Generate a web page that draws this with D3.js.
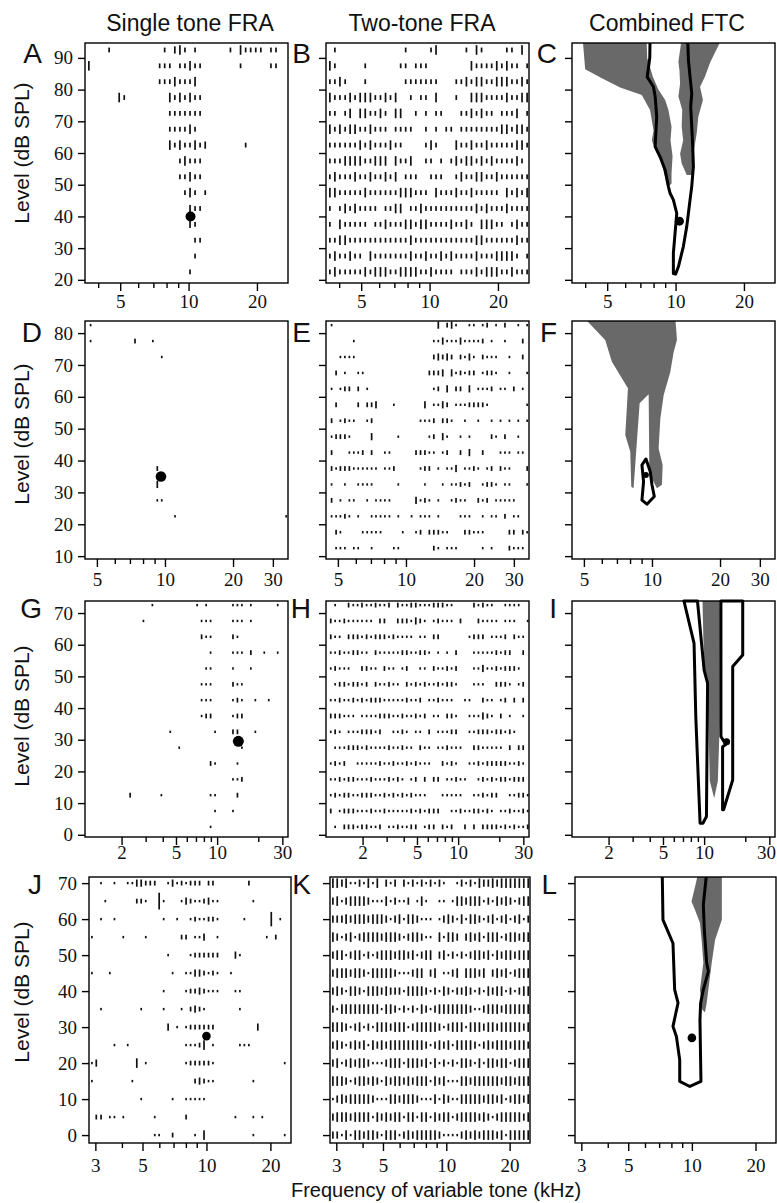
<!DOCTYPE html>
<html>
<head>
<meta charset="utf-8">
<script src="https://cdn.jsdelivr.net/npm/d3@7/dist/d3.min.js"></script>
<style>
  html, body { margin: 0; padding: 0; background: #fff; }
  svg { display: block; }
</style>
</head>
<body>
<svg id="fig" width="777" height="1203"></svg>
<script>
// ---------------- text ----------------
const columnTitles = ["Single tone FRA", "Two-tone FRA", "Combined FTC"];
const panelLetters = [["A", "B", "C"], ["D", "E", "F"], ["G", "H", "I"], ["J", "K", "L"]];
const yAxisTitle = "Level (dB SPL)";
const xAxisTitle = "Frequency of variable tone (kHz)";

// ---------------- stimulus grids (kHz / dB SPL) ----------------
const freqsRow1 = [3.64, 3.83, 4.03, 4.25, 4.47, 4.70, 4.95, 5.21, 5.49, 5.77,
  6.08, 6.40, 6.73, 7.09, 7.46, 7.85, 8.27, 8.70, 9.16, 9.64,
  10.15, 10.68, 11.24, 11.84, 12.46, 13.11, 13.80, 14.53, 15.29, 16.10,
  16.94, 17.84, 18.77, 19.76, 20.80, 21.89, 23.05, 24.26, 25.53, 26.88];
const freqsRow2 = [4.69, 4.91, 5.13, 5.37, 5.62, 5.88, 6.15, 6.44, 6.74, 7.05,
  7.37, 7.72, 8.07, 8.45, 8.84, 9.25, 9.68, 10.12, 10.59, 11.08,
  11.60, 12.13, 12.69, 13.28, 13.90, 14.54, 15.21, 15.92, 16.65, 17.43,
  18.23, 19.08, 19.96, 20.88, 21.85, 22.86, 23.92, 25.03, 26.19, 27.40,
  28.67, 29.99, 31.38, 32.84, 34.36];
const freqsRow3 = [1.17, 1.26, 1.36, 1.47, 1.58, 1.71, 1.84, 1.98, 2.14, 2.31,
  2.49, 2.68, 2.89, 3.12, 3.36, 3.62, 3.91, 4.21, 4.54, 4.90,
  5.28, 5.70, 6.14, 6.63, 7.14, 7.70, 8.31, 8.96, 9.66, 10.41,
  11.23, 12.11, 13.06, 14.08, 15.18, 16.37, 17.65, 19.04, 20.53, 22.13,
  23.87, 25.74, 27.75, 29.92, 32.27];
const freqsRow4 = [2.89, 3.03, 3.19, 3.34, 3.51, 3.69, 3.87, 4.06, 4.26, 4.48,
  4.70, 4.93, 5.18, 5.44, 5.71, 5.99, 6.29, 6.60, 6.93, 7.28,
  7.64, 8.02, 8.42, 8.84, 9.28, 9.74, 10.23, 10.73, 11.27, 11.83,
  12.42, 13.04, 13.69, 14.37, 15.08, 15.84, 16.62, 17.45, 18.32, 19.23,
  20.19, 21.20, 22.25, 23.36, 24.52];

const levelsRow1 = [92.5, 87.5, 82.5, 77.5, 72.5, 67.5, 62.5, 57.5, 52.5, 47.5, 42.5, 37.5, 32.5, 27.5, 22.5];
const levelsRow2 = [82.5, 77.5, 72.5, 67.5, 62.5, 57.5, 52.5, 47.5, 42.5, 37.5, 32.5, 27.5, 22.5, 17.5, 12.5];
const levelsRow3 = [72.5, 67.5, 62.5, 57.5, 52.5, 47.5, 42.5, 37.5, 32.5, 27.5, 22.5, 17.5, 12.5, 7.5, 2.5];
const levelsRow4 = [70, 65, 60, 55, 50, 45, 40, 35, 30, 25, 20, 15, 10, 5, 0];

// ---------------- spike counts per cell ('.' = no spikes), one string per level ----------------
const rasterA = [
  "....2 ..... ..... 2.342 .2... ...2. 42222 .22..",
  "4.... ..... ....2 22.22 422.. ..... 2.... .22..",
  "..... ..... ....2 22422 24... ..... ..... .....",
  "..... .42.. ..... .4242 422.. ..... ..... .....",
  "..... ..... ..... .2222 222.. ..... ..... .....",
  "..... ..... ..... .2222 42... ..... ..... .....",
  "..... ..... ..... .4242 2423. ..... .2... .....",
  "..... ..... ..... ...24 222.. ..... ..... .....",
  "..... ..... ..... ...22 422.. ..... ..... .....",
  "..... ..... ..... ....2 42.2. ..... ..... .....",
  "..... ..... ..... ..... 322.. ..... ..... .....",
  "..... ..... ..... ..... 32... ..... ..... .....",
  "..... ..... ..... ..... .22.. ..... ..... .....",
  "..... ..... ..... ..... .2... ..... ..... .....",
  "..... ..... ..... ..... 2.... ..... ..... ....."
];
const rasterB = [
  ".2... ..... ..... 2.... 24... ..2.4 2.... 22.4.",
  "42... ..2.. ....2 2.222 ..... ...42 22242 422.2",
  "2242. ..2.. ..... 22222 22... 22424 42244 42242",
  "42224 24442 2424. .2.22 .4... 2..44 42222 42244",
  "22.24 .4422 42.44 ..2.2 .22.. .2242 422.2 224.2",
  "42424 42242 22.22 22..2 .2.22 .2222 22224 42442",
  "22222 24242 22422 ....2 42... 42242 24222 22442",
  "22244 44224 44.42 24..2 2.2.2 42442 42422 2242.",
  "24222 42242 2424. 222.. 222.. 24224 42242 22222",
  "44222 22422 22224 44222 .4222 42242 2222. 42424",
  "2.242 42222 .2244 .2242 22222 22224 24222 42222",
  "2.422 222.2 24222 44244 22224 2242. 44422 .2422",
  "22442 22222 22222 24222 22222 22224 42222 22422",
  "24224 22.42 22222 24224 22424 22224 22244 442.2",
  "24222 22424 44224 44422 42222 .2224 24442 24222"
];
const rasterD = [
  "1.... ..... ..... ..... ..... ..... ..... ..... .....",
  "1.... ..... 2...1 ..... ..... ..... ..... ..... .....",
  "..... ..... ..... .1... ..... ..... ..... ..... .....",
  "..... ..... ..... ..... ..... ..... ..... ..... .....",
  "..... ..... ..... ..... ..... ..... ..... ..... .....",
  "..... ..... ..... ..... ..... ..... ..... ..... .....",
  "..... ..... ..... ..... ..... ..... ..... ..... .....",
  "..... ..... ..... ..... ..... ..... ..... ..... .....",
  "..... ..... ..... ..... ..... ..... ..... ..... .....",
  "..... ..... ..... 2.... ..... ..... ..... ..... .....",
  "..... ..... ..... 3.... ..... ..... ..... ..... .....",
  "..... ..... ..... 11... ..... ..... ..... ..... .....",
  "..... ..... ..... ....1 ..... ..... ..... ..... ....1",
  "..... ..... ..... ..... ..... ..... ..... ..... .....",
  "..... ..... ..... ..... ..... ..... ..... ..... ....."
];
const rasterE = [
  "1.... ..... ..... ..... ....3 .231. .11.1 2.1.2 ..1.1",
  "..... 1.... ..... ..... ...11 31113 11112 .1..1 ...2.",
  "..111 1.... ..... ..... ...23 232.2 131.2 111.. 1..2.",
  ".2.1. .11.. ..... ..... ..222 3.312 122.1 221.. 1...1",
  "1.122 .2.1. ..... ..... ...12 .3.22 .3.11 12.11 .2.1.",
  ".2... .2.22 3...1 ..... .3.11 32.11 12222 1.... ....1",
  "2.121 1..12 ..... ..... 1112. 221.. 1..1. .1.1. 1.1.1",
  "12221 ....3 ..... 1.... ..12. 31..1 .1... .21.2 ..1..",
  "2...1 112.2 ..11. ....2 2211. 12..2 .3..2 ...11 1.11.",
  "21222 11111 1.112 ..... 122.1 .113. 1121. 12.21 1...2",
  "1..1. .1111 ..... 1.... .1... 1.112 12..1 221.1 1...1",
  "2.1.1 1..1. 1111. ....3 121.1 ..121 1..21 2.111 11...",
  "11121 .1..1 1111. 1..1. 111.1 ....1 11..1 .11.2 .11..",
  ".21.. ..111 11... .1..1 2.222 11... 22111 ..... 22.21",
  ".111. 11..1 ....1 1.... ...21 .111. ....1 .1... 2111."
];
const rasterG = [
  "..... ..... ....1 ..... ....1 .1... ..111 .1... ..1..",
  "..... ..... ..1.. ..... ..... 111.. ..111 .1... .....",
  "..... ..... ..... ..... ..... 211.. ..21. ..... .....",
  "..... ..... ..... ..... ..... ..1.. ..111 .2..1 ..1..",
  "..... ..... ..... ..... ..... .11.. ..1.. .1... .....",
  "..... ..... ..... ..... ..... 111.. ..211 ..... .....",
  "..... ..... ..... ..... ..... 111.. ..121 ..1.. 1....",
  "..... ..... ..... ..... ..... 122.. ..122 ..... .....",
  "..... ..... ..... ...1. ..... ...1. ..22. ..1.. .....",
  "..... ..... ..... ..... 1.... ..... ....1 ..... .....",
  "..... ..... ..... ..... ..... ..21. ...1. ..... .....",
  "..... ..... ..... ..... ..... ..... ..112 ..... .....",
  "..... ....2 ..... .1... ..... ..11. ...2. ..... .....",
  "..... ..... ..... ..... ..... ...1. ..1.. ..... .....",
  "..... ..... ..... ..... ..... ..1.. ..... ..... ....."
];
const rasterH = [
  ".1..2 11211 2112. 21122 11122 211.. ..212 11..1 111..",
  "21121 11111 .22.. 22213 21.12 111.2 ...21 111.1 11..1",
  "211.2 22121 22212 1111. 11.22 ..... .1222 .1112 .211.",
  "11211 2211. 21111 12211 221.1 .1.2. ..111 11212 2..2.",
  "12111 ..221 1.211 .12.. 11.21 1212. ..113 11212 221..",
  ".1221 2212. 21121 1.212 12112 1221. ..111 ..222 1.12.",
  "11211 21212 22111 11211 2.112 111.. 11..2 11.12 .2.2.",
  "22211 1.111 12221 12112 12.11 .221. .1113 21.2. 1..1.",
  "121.1 11222 12..1 121.1 1.2.1 1122. .1122 21221 21...",
  ".1112 22121 11121 1211. 211.1 12111 ..221 1111. 2.22.",
  "1212. .1111 12112 11212 111.. 2121. .1121 22222 1121.",
  "11212 21112 11121 21.12 .2.22 .1121 1..12 12122 1222.",
  "12122 11222 11212 12121 11... 11111 ..112 122.. 11221",
  "2.122 21112 11211 11121 21222 ..112 11221 21.11 21121",
  ".1.22 21221 12.11 21122 .122. 212.. 2.2.2 22212 12112"
];
const rasterJ = [
  "..1.. 1..11 33222 ..131 21222 .22.. ..... 2.... .....",
  "...1. ..... 221.. 71... 13211 2311. ..... .1... .....",
  "..1.. 1.... ..... .1..1 ..121 1221. ....1 ..... 6.1..",
  "1.... ..1.. ..1.. ..... 22.11 3..1. ..... ....1 .2...",
  "..... ..... ..... ..1.. ..122 2222. ..31. ..... .....",
  "1...1 ..... ..... ...1. .1133 2121. .1... ..... .....",
  "..... ..... ..... .1... .1223 2111. ..11. ..... .....",
  "..1.. ..... .1... .1... 1.232 1.... ...1. ..... .....",
  "..... ..... ..... ..3.1 .1222 222.. ..... ..3.. .....",
  "..... 1..1. ..... ..... .1112 4.1.. ...11 1.... .....",
  "13... ..... 4.1.. ..... .1222 221.. ..... ..... ...1.",
  "1.... ....1 ..... ..... ...23 211.. ..... .1... .....",
  "..... ..... .1... ...1. .1111 1.... ..... ..... .....",
  ".22.1 1.1.. ....1 ..... .2... ..... ..1.. .1.1. .....",
  "..... ..... ....1 1..2. ...1. 4.... ..... .1... ...1."
];
const rasterK = [
  "44341 13141 4.313 .3131 31313 1..13 13143 34344 44444",
  "34134 44431 11413 113.1 41..1 1.144 34441 31434 31344",
  "33343 44434 44313 41443 111.1 34314 14431 34134 13413",
  "43134 13444 43444 31344 311.4 1443. 34341 44413 44344",
  "34413 44131 34443 44341 344.3 41313 13443 41434 43444",
  "34443 44314 44443 11134 4.34. 1134. 44434 .3434 13444",
  "34314 43144 43433 31444 43131 43133 43131 43441 31344",
  "31444 44444 41443 13131 43134 44444 43113 44434 44444",
  "44431 34131 44434 44134 44443 13444 14443 44344 44434",
  "34313 43414 34344 44444 43134 34144 44313 43444 34443",
  "34134 34431 11344 41444 34141 31314 43141 44344 13444",
  "44431 34434 31434 43434 44143 41114 43444 44434 43444",
  "13434 44443 11144 34443 11141 43114 44443 44341 34434",
  "34443 44441 43434 41441 44143 44134 44434 31344 44434",
  "33141 44344 31444 13434 44443 11113 43434 44341 44444"
];

// ---------------- characteristic frequency / threshold points ----------------
const cfA = [10.2, 40];
const cfC = [10.4, 38.5];
const cfD = [9.6, 35];
const cfF = [9.4, 35.5];
const cfG = [14.3, 29.5];
const cfI = [14.6, 29.4];
const cfJ = [10.0, 27.5];
const cfL = [10.0, 27.0];

// ---------------- tuning-curve outlines [kHz, dB SPL] ----------------
const ftcC_suppLow = [[3.9, 96], [7.45, 96], [7.5, 90], [7.95, 84], [8.4, 80], [9.0, 76.7], [9.3, 73.6],
  [9.6, 68.3], [9.5, 64], [9.7, 59], [9.6, 53.6], [9.6, 50.4], [9.3, 49.4], [9.15, 50], [8.7, 56.7],
  [8.13, 61], [7.86, 64], [8.0, 67], [7.72, 73.6], [7.1, 78.3], [5.7, 80.7], [4.74, 83.6], [4.0, 86.4]];
const ftcC_suppHigh = [[10.64, 96], [15.96, 96], [14.18, 88.5], [13.48, 84.1], [12.82, 80.9], [13.2, 76.7],
  [12.6, 71.5], [12.39, 66.2], [12.06, 61], [12.06, 54.6], [11.78, 53.1], [11.2, 53.1], [10.64, 56.7],
  [10.47, 59.8], [10.8, 64], [10.64, 68.3], [10.7, 73.6], [10.4, 76.7], [10.29, 77.8], [10.47, 81.9],
  [10.4, 86.2], [10.29, 88.8]];
const ftcC_excit = [[7.72, 96], [7.7, 90], [7.5, 84], [7.99, 80.9], [8.13, 77.8], [8.26, 71.5], [8.13, 62],
  [8.55, 58.8], [9.0, 54.6], [9.3, 49.4], [9.46, 47.3], [9.78, 45.2], [10.12, 41], [9.95, 34.7], [9.78, 28.4],
  [9.78, 22], [10.0, 21.8], [10.29, 24.1], [10.82, 30.5], [11.2, 36.8], [11.39, 41], [11.58, 45.2],
  [11.78, 49.4], [11.98, 55.7], [11.9, 62], [11.78, 68.3], [11.66, 74.6], [11.78, 78.8], [11.58, 84.1],
  [11.39, 89.3], [11.31, 96]];

const ftcF_supp = [[4.98, 85], [12.68, 85], [12.9, 77.8], [12.47, 74.1], [12.06, 67.9], [11.27, 60.6],
  [10.89, 53.2], [10.7, 43.8], [11.15, 38.6], [11.07, 32.4], [10.52, 31.3], [10.0, 34.4], [9.73, 38.6],
  [9.67, 60.8], [8.82, 58], [8.29, 31.3], [8.1, 31.8], [8.02, 42.8], [7.62, 48], [7.83, 62.7], [6.65, 71],
  [6.21, 77.8]];
const ftcF_excit = [[9.03, 38.6], [9.41, 40.5], [9.83, 36.5], [10.0, 32.4], [10.24, 28.7], [9.5, 26.3],
  [9.03, 27.6], [9.18, 33.4]];

const ftcI_supp = [[9.73, 73.8], [13.05, 73.8], [13.0, 35], [12.6, 17], [11.85, 11.5], [11.0, 17],
  [10.6, 47.8], [10.0, 52]];
const ftcI_excitLow = [[7.12, 73.8], [8.94, 73.8], [10.0, 52], [10.6, 47.8], [10.4, 5.75], [9.8, 3.65],
  [9.34, 3.65], [8.69, 37.3], [8.44, 60.4]];
const ftcI_excitHigh = [[13.27, 73.8], [19.16, 73.8], [19.16, 56.75], [16.18, 53.1], [16.18, 17.3],
  [13.88, 7.9], [13.65, 7.9], [13.65, 27.8], [14.4, 28.5], [13.27, 31]];

const ftcL_supp = [[10.84, 73], [13.86, 73], [13.86, 59.8], [12.88, 54.3], [12.41, 47.8], [11.75, 36.7],
  [11.54, 34.1], [11.2, 34.8], [10.92, 40.4], [11.33, 47.8], [11.12, 54.3], [10.92, 58.9], [10.34, 62.6],
  [9.96, 64.9], [10.45, 70], [10.72, 73]];
const ftcL_excit = [[7.24, 73], [7.3, 59.8], [8.14, 53.3], [8.29, 40.4], [8.6, 36.7], [8.14, 30.2],
  [8.45, 27.4], [8.76, 20.9], [8.76, 14.9], [9.78, 13.5], [11.04, 14.9], [10.92, 32], [11.0, 36.7],
  [11.33, 40.4], [11.97, 45.5], [11.75, 47.8], [11.45, 57], [11.33, 64], [11.75, 73]];

// ---------------- axis ticks ----------------
const yTicksRow1 = [20, 30, 40, 50, 60, 70, 80, 90];
const yTicksRow2 = [10, 20, 30, 40, 50, 60, 70, 80];
const yTicksRow3 = [0, 10, 20, 30, 40, 50, 60, 70];
const yTicksRow4 = [0, 10, 20, 30, 40, 50, 60, 70];
const xMajorRow1 = [5, 10, 20];
const xMinorRow1 = [4, 6, 7, 8, 9];
const xMajorRow2 = [5, 10, 20, 30];
const xMinorRow2 = [6, 7, 8, 9];
const xMajorRow3 = [2, 5, 10, 30];
const xMinorRow3 = [3, 4, 6, 7, 8, 9, 20];
const xMajorRow4 = [3, 5, 10, 20];
const xMinorRow4 = [4, 6, 7, 8, 9];

// ---------------- layout ----------------
const W = 777, H = 1203;
const SANS = "'Liberation Sans', Arial, Helvetica, sans-serif";
const SERIF = "'Liberation Serif', 'Times New Roman', serif";
const GRAY = "#696969";

const rows = [
  { top: 43, bottom: 283, yDomain: [19, 94.7], xDomain: [3.5, 27.4],
    cols: [[85, 288], [326, 529], [572, 775]], yTicks: yTicksRow1, xMajor: xMajorRow1, xMinor: xMinorRow1,
    labelPad: 4, titleY: 153, letterY: 63 },
  { top: 321, bottom: 559, yDomain: [9.1, 83.8], xDomain: [4.43, 35],
    cols: [[85, 288], [326, 529], [572, 775]], yTicks: yTicksRow2, xMajor: xMajorRow2, xMinor: xMinorRow2,
    labelPad: 6, titleY: 434, letterY: 342 },
  { top: 601, bottom: 837, yDomain: [-0.7, 73.8], xDomain: [1.08, 33],
    cols: [[85, 288], [326, 529], [572, 775]], yTicks: yTicksRow3, xMajor: xMajorRow3, xMinor: xMinorRow3,
    labelPad: 1, titleY: 716, letterY: 618 },
  { top: 877, bottom: 1143, yDomain: [-2.2, 71.7], xDomain: [2.8, 25],
    cols: [[89, 291], [330, 530], [575, 776]], yTicks: yTicksRow4, xMajor: xMajorRow4, xMinor: xMinorRow4,
    labelPad: 8, titleY: 992, letterY: 894 }
];
const letterX = [42, 311, 557];

const panels = [
  [ { kind: "raster", counts: rasterA, freqs: freqsRow1, levels: levelsRow1, cf: cfA, cfR: 5 },
    { kind: "raster", counts: rasterB, freqs: freqsRow1, levels: levelsRow1 },
    { kind: "ftc", fills: [ftcC_suppLow, ftcC_suppHigh], lines: [{ pts: ftcC_excit, closed: false }], cf: cfC, cfR: 4.5, clip: true } ],
  [ { kind: "raster", counts: rasterD, freqs: freqsRow2, levels: levelsRow2, cf: cfD, cfR: 5.3 },
    { kind: "raster", counts: rasterE, freqs: freqsRow2, levels: levelsRow2 },
    { kind: "ftc", fills: [ftcF_supp], lines: [{ pts: ftcF_excit, closed: true }], cf: cfF, cfR: 3, clip: true } ],
  [ { kind: "raster", counts: rasterG, freqs: freqsRow3, levels: levelsRow3, cf: cfG, cfR: 5.5 },
    { kind: "raster", counts: rasterH, freqs: freqsRow3, levels: levelsRow3 },
    { kind: "ftc", fills: [ftcI_supp], lines: [{ pts: ftcI_excitLow, closed: true }, { pts: ftcI_excitHigh, closed: true }], cf: cfI, cfR: 3.5, clip: false } ],
  [ { kind: "raster", counts: rasterJ, freqs: freqsRow4, levels: levelsRow4, cf: cfJ, cfR: 4.3 },
    { kind: "raster", counts: rasterK, freqs: freqsRow4, levels: levelsRow4 },
    { kind: "ftc", fills: [ftcL_supp], lines: [{ pts: ftcL_excit, closed: false }], cf: cfL, cfR: 4.3, clip: true } ]
];

// spike count -> tick height in px
const heightScale = d3.scaleLinear().domain([0, 1]).range([0, 2.4]);

const svg = d3.select("#fig");
svg.append("rect").attr("width", W).attr("height", H).attr("fill", "#fff");
const defs = svg.append("defs");

// column titles
const titleX = [190, 422, 667];
columnTitles.forEach((t, i) => {
  svg.append("text").attr("x", titleX[i]).attr("y", 31)
    .attr("text-anchor", "middle").attr("font-family", SANS).attr("font-size", 23)
    .attr("fill", "#111").text(t);
});

rows.forEach((row, ri) => {
  // y-axis title for this row
  svg.append("text")
    .attr("transform", `translate(29,${row.titleY}) rotate(-90)`)
    .attr("text-anchor", "middle").attr("font-family", SANS).attr("font-size", 21)
    .attr("fill", "#111").text(yAxisTitle);

  row.cols.forEach((c, ci) => {
    const spec = panels[ri][ci];
    const x = d3.scaleLog().domain(row.xDomain).range([c[0], c[1]]);
    const y = d3.scaleLinear().domain(row.yDomain).range([row.bottom, row.top]);
    const g = svg.append("g");

    // panel letter
    svg.append("text").attr("x", letterX[ci]).attr("y", row.letterY)
      .attr("text-anchor", "end").attr("font-family", SANS).attr("font-size", 28)
      .attr("fill", "#111").text(panelLetters[ri][ci]);

    if (spec.kind === "raster") {
      const cells = [];
      spec.counts.forEach((s, r) => {
        const str = s.replace(/\s/g, "");
        for (let j = 0; j < str.length; j++) {
          if (str[j] !== ".") cells.push({ f: spec.freqs[j], l: spec.levels[r], n: +str[j] });
        }
      });
      g.append("g").selectAll("rect").data(cells).join("rect")
        .attr("x", d => x(d.f) - 0.85).attr("width", 1.7)
        .attr("y", d => y(d.l) - heightScale(d.n) / 2)
        .attr("height", d => heightScale(d.n))
        .attr("fill", "#111");
    } else {
      const clipId = "clip-" + ri + "-" + ci;
      defs.append("clipPath").attr("id", clipId).append("rect")
        .attr("x", c[0]).attr("y", row.top).attr("width", c[1] - c[0]).attr("height", row.bottom - row.top);
      const inner = g.append("g");
      const innerLines = g.append("g");
      inner.attr("clip-path", `url(#${clipId})`);
      if (spec.clip) innerLines.attr("clip-path", `url(#${clipId})`);
      const area = d3.line().x(d => x(d[0])).y(d => y(d[1])).curve(d3.curveLinearClosed);
      const open = d3.line().x(d => x(d[0])).y(d => y(d[1]));
      spec.fills.forEach(p => {
        inner.append("path").attr("d", area(p)).attr("fill", GRAY).attr("stroke", "none");
      });
      spec.lines.forEach(o => {
        innerLines.append("path").attr("d", o.closed ? area(o.pts) : open(o.pts))
          .attr("fill", "none").attr("stroke", "#000").attr("stroke-width", 3)
          .attr("stroke-linejoin", "round");
      });
    }

    if (spec.cf) {
      g.append("circle").attr("cx", x(spec.cf[0])).attr("cy", y(spec.cf[1]))
        .attr("r", spec.cfR).attr("fill", "#000");
    }

    // frame
    g.append("rect").attr("x", c[0]).attr("y", row.top)
      .attr("width", c[1] - c[0]).attr("height", row.bottom - row.top)
      .attr("fill", "none").attr("stroke", "#000").attr("stroke-width", 1.4);

    // y axis
    const yAxis = d3.axisLeft(y).tickValues(row.yTicks).tickSize(7).tickPadding(5)
      .tickFormat(ci === 0 ? d3.format("d") : () => "");
    const ya = g.append("g").attr("transform", `translate(${c[0]},0)`).call(yAxis);
    ya.select(".domain").remove();
    ya.attr("font-family", SERIF).attr("font-size", 19);
    ya.selectAll("line").attr("stroke", "#000").attr("stroke-width", 1.4);
    ya.selectAll("text").attr("fill", "#111");

    // x axis: major ticks with labels, minor ticks without
    const xa = g.append("g").attr("transform", `translate(0,${row.bottom})`)
      .call(d3.axisBottom(x).tickValues(row.xMajor).tickSize(8).tickPadding(row.labelPad).tickFormat(d3.format("d")));
    xa.select(".domain").remove();
    xa.attr("font-family", SERIF).attr("font-size", 19);
    xa.selectAll("line").attr("stroke", "#000").attr("stroke-width", 1.4);
    xa.selectAll("text").attr("fill", "#111");
    const xm = g.append("g").attr("transform", `translate(0,${row.bottom})`)
      .call(d3.axisBottom(x).tickValues(row.xMinor).tickSize(5).tickFormat(() => ""));
    xm.select(".domain").remove();
    xm.selectAll("line").attr("stroke", "#000").attr("stroke-width", 1.4);
  });
});

svg.append("text").attr("x", 436).attr("y", 1197)
  .attr("text-anchor", "middle").attr("font-family", SANS).attr("font-size", 20)
  .attr("fill", "#111").text(xAxisTitle);

// keep tick labels inside the drawing area
svg.selectAll(".tick text").each(function () {
  const b = this.getBoundingClientRect();
  if (b.right > W - 1) {
    const cur = +(this.getAttribute("x") || 0);
    this.setAttribute("x", cur - (b.right - (W - 1)));
  }
});
</script>
</body>
</html>
